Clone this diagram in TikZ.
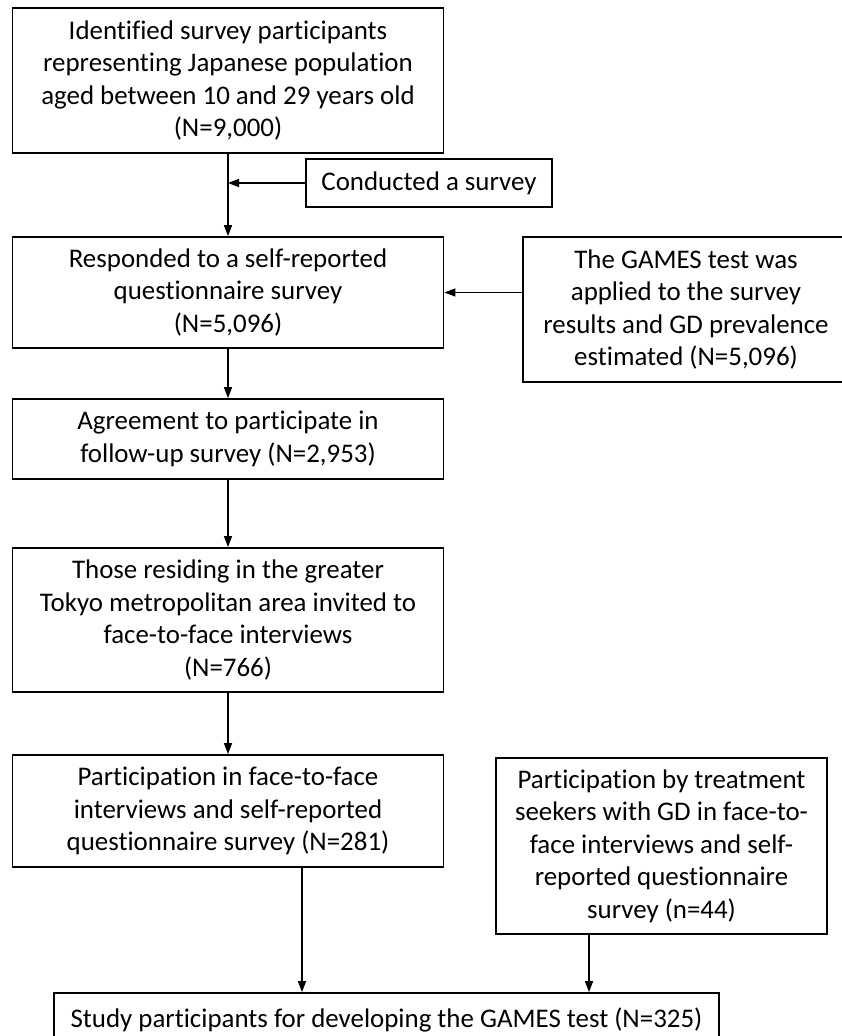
\documentclass[tikz,border=0pt]{standalone}
\usepackage{fontspec}
\setmainfont[Ligatures=NoCommon]{Carlito}
\usetikzlibrary{arrows.meta}
\tikzset{
  box/.style={draw, line width=1.8pt, align=center, inner sep=0pt,
    font=\fontsize{26.9}{32.5}\selectfont},
  arr/.style={line width=1.5pt, -{Triangle[length=11pt,width=8pt]}}
}
\begin{document}
\begin{tikzpicture}[x=1pt, y=-1pt]
\useasboundingbox (0,0) rectangle (842,1036);
% riquadri
\node[box, minimum width=431, minimum height=145] (ident) at (228, 80.5)
  {Identified survey participants\\representing Japanese population\\aged between 10 and 29 years old\\(N=9,000)};
\node[box, minimum width=246, minimum height=48] (survey) at (429, 183) {Conducted a survey};
\node[box, minimum width=431, minimum height=111] (resp) at (228, 292.5)
  {Responded to a self-reported\\questionnaire survey\\(N=5,096)};
\node[box, minimum width=326, minimum height=145] (games) at (686, 309.5)
  {The GAMES test was\\applied to the survey\\results and GD prevalence\\estimated (N=5,096)};
\node[box, minimum width=431, minimum height=80] (agree) at (228, 439)
  {Agreement to participate in\\follow-up survey (N=2,953)};
\node[box, minimum width=431, minimum height=144] (tokyo) at (228, 620)
  {Those residing in the greater\\Tokyo metropolitan area invited to\\face-to-face interviews\\(N=766)};
\node[box, minimum width=431, minimum height=112] (part) at (228, 811)
  {Participation in face-to-face\\interviews and self-reported\\questionnaire survey (N=281)};
\node[box, minimum width=331, minimum height=176] (treat) at (661.5, 846)
  {Participation by treatment\\seekers with GD in face-to-\\face interviews and self-\\reported questionnaire\\survey (n=44)};
\node[box, minimum width=665, minimum height=54] (study) at (386.5, 1020)
  {Study participants for developing the GAMES test (N=325)};
% frecce
\coordinate (join) at (ident.south |- survey.west);
\draw[arr] (ident) -- (resp);
\draw[arr] (survey) -- (join);
\draw[arr] (games.west |- resp.east) -- (resp.east);
\draw[arr] (resp) -- (agree);
\draw[arr] (agree) -- (tokyo);
\draw[arr] (tokyo) -- (part);
\draw[arr] ([xshift=74pt]part.south) -- ([xshift=74pt]part.south |- study.north);
\draw[arr] ([xshift=-72.5pt]treat.south) -- ([xshift=-72.5pt]treat.south |- study.north);
\end{tikzpicture}
\end{document}
